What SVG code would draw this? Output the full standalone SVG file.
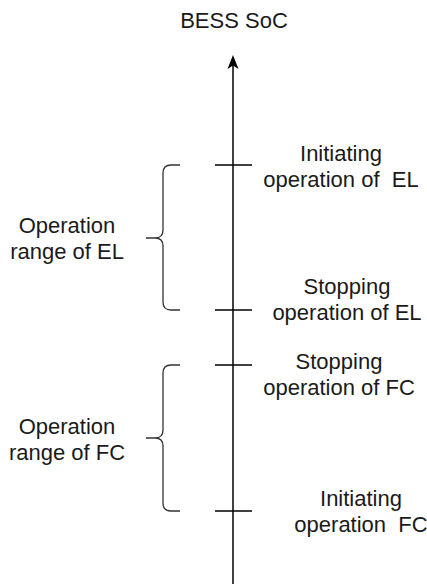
<svg xmlns="http://www.w3.org/2000/svg" width="427" height="584" viewBox="0 0 427 584">
  <defs>
    <!-- classic arrowhead, drawn along +x so orient="auto" turns it with the axis -->
    <marker id="arrowHead" markerWidth="14" markerHeight="12" refX="9" refY="6" orient="auto" markerUnits="userSpaceOnUse" viewBox="0 0 14 12">
      <path d="M0 0.5 L14 6 L0 11.5 L3.5 6 Z" fill="#000"/>
    </marker>
  </defs>
  <style>
    text { font-family: "Liberation Sans", Arial, Helvetica, sans-serif; font-size: 22px; fill: #1a1a1a; text-anchor: middle; white-space: pre; }
    .line { stroke: #000; stroke-width: 1.5; fill: none; }
    .brace { stroke: #333; stroke-width: 1.3; fill: none; }
  </style>
  <rect width="427" height="584" fill="#fff"/>

  <!-- vertical SoC axis with arrow -->
  <g id="connectors">
    <line class="line" x1="233" y1="584" x2="233" y2="60" marker-end="url(#arrowHead)"/>
  </g>

  <g id="axis-label">
    <text x="234" y="28">BESS SoC</text>
  </g>

  <!-- threshold ticks -->
  <g id="tick-init-el">
    <line class="line" x1="215" y1="165" x2="252" y2="165"/>
    <text x="341" y="161">Initiating</text>
    <text x="341" y="187" xml:space="preserve">operation of  EL</text>
  </g>
  <g id="tick-stop-el">
    <line class="line" x1="215" y1="310" x2="252" y2="310"/>
    <text x="347" y="294">Stopping</text>
    <text x="347" y="320">operation of EL</text>
  </g>
  <g id="tick-stop-fc">
    <line class="line" x1="215" y1="365" x2="252" y2="365"/>
    <text x="339" y="369">Stopping</text>
    <text x="339" y="395">operation of FC</text>
  </g>
  <g id="tick-init-fc">
    <line class="line" x1="215" y1="511" x2="252" y2="511"/>
    <text x="361" y="506">Initiating</text>
    <text x="361" y="532" xml:space="preserve">operation  FC</text>
  </g>

  <!-- operating ranges -->
  <g id="range-el">
    <path class="brace" d="M180 165 H171 Q163 165 163 173 V230 Q163 238 155 238 H146 M155 238 Q163 238 163 246 V302 Q163 310 171 310 H180"/>
    <text x="67" y="233">Operation</text>
    <text x="67" y="259">range of EL</text>
  </g>
  <g id="range-fc">
    <path class="brace" d="M180 365 H171 Q163 365 163 373 V430 Q163 438 155 438 H146 M155 438 Q163 438 163 446 V503 Q163 511 171 511 H180"/>
    <text x="67" y="434">Operation</text>
    <text x="67" y="460">range of FC</text>
  </g>
</svg>
